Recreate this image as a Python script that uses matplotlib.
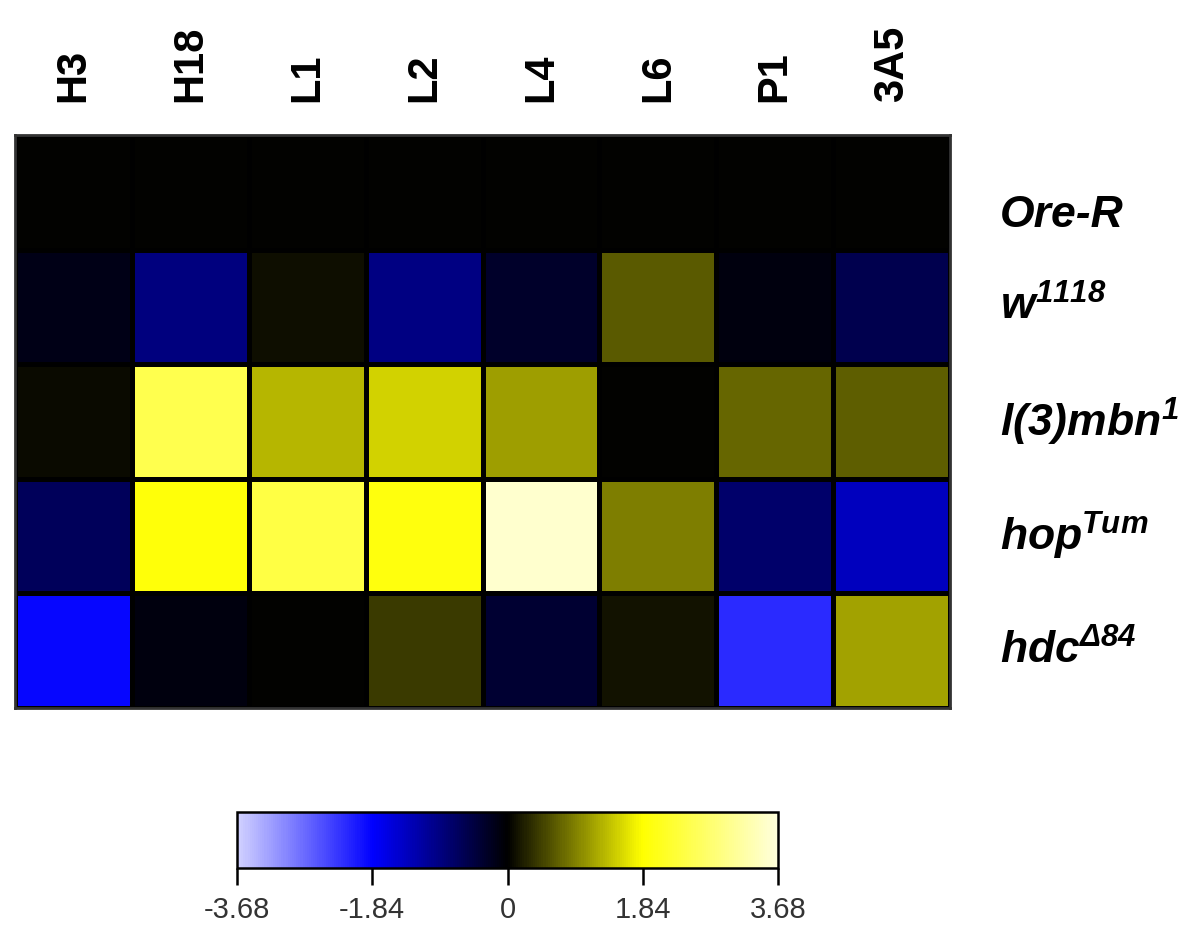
import numpy as np
import matplotlib.pyplot as plt
from matplotlib.colors import LinearSegmentedColormap

# cell lines (columns) and genotypes (rows)
columns = ['H3', 'H18', 'L1', 'L2', 'L4', 'L6', 'P1', '3A5']
rows = ['Ore-R', r'w$^{1118}$', r'l(3)mbn$^{1}$', r'hop$^{Tum}$', r'hdc$^{Δ84}$']

ore_r = [0.0, 0.0, 0.0, 0.0, 0.0, 0.0, 0.0, 0.0]
w1118 = [-0.15, -0.92, 0.10, -0.94, -0.29, 0.65, -0.10, -0.55]
mbn1 = [0.08, 2.50, 1.32, 1.50, 1.14, 0.02, 0.74, 0.68]
hop_tum = [-0.65, 1.92, 2.40, 1.95, 3.55, 0.90, -0.76, -1.37]
hdc84 = [-1.88, -0.09, 0.0, 0.43, -0.36, 0.14, -2.19, 1.17]

cbar_ticks = [-3.68, -1.84, 0, 1.84, 3.68]
cbar_labels = ['-3.68', '-1.84', '0', '1.84', '3.68']

values = np.array([ore_r, w1118, mbn1, hop_tum, hdc84])

plt.rcParams['mathtext.fontset'] = 'custom'
plt.rcParams['mathtext.rm'] = 'Liberation Sans:italic:bold'
plt.rcParams['mathtext.it'] = 'Liberation Sans:italic:bold'
plt.rcParams['mathtext.bf'] = 'Liberation Sans:italic:bold'

# blue - black - yellow map with pale ends
cmap = LinearSegmentedColormap.from_list(
    'byb',
    [(0.0, (0.82, 0.82, 1.0)), (0.25, (0.0, 0.0, 1.0)), (0.5, (0.0, 0.0, 0.0)),
     (0.75, (1.0, 1.0, 0.0)), (1.0, (1.0, 1.0, 0.86))])

W, H = 1196, 925
fig = plt.figure(figsize=(W / 100, H / 100), dpi=100)
ax = fig.add_axes([15 / W, 1 - 708 / H, 935 / W, 573 / H])

mesh = ax.pcolormesh(values, cmap=cmap, vmin=-3.68, vmax=3.68,
                     edgecolors='black', linewidth=2.5)
ax.set_xlim(0, len(columns))
ax.set_ylim(len(rows), 0)
for s in ax.spines.values():
    s.set_color('#333333')
    s.set_linewidth(2)

# column labels on top, rotated
ax.xaxis.tick_top()
ax.set_xticks(np.arange(len(columns)) + 0.5)
ax.set_xticklabels(columns, rotation=90, fontsize=30, fontweight='bold',
                   family='Liberation Sans')
ax.tick_params(axis='x', length=0, pad=24)
ax.set_yticks([])

# genotype labels on the right
for i, name in enumerate(rows):
    y = i + 0.5 + (0.2 if i == 0 else 0)
    ax.text(8.43, y, name, fontsize=32, fontweight='bold', fontstyle='italic',
            family='Liberation Sans', va='center', ha='left', clip_on=False)

# colour key
cax = fig.add_axes([237 / W, 1 - 868 / H, 541 / W, 56 / H])
cb = fig.colorbar(mesh, cax=cax, orientation='horizontal', ticks=cbar_ticks)
cb.ax.set_xticklabels(cbar_labels)
cb.outline.set_edgecolor('black')
cb.outline.set_linewidth(1.8)
cb.ax.tick_params(length=12, width=1.8, labelsize=21, labelcolor='#333333', pad=8)
for lab in cb.ax.get_xticklabels():
    lab.set_family('Liberation Sans')

fig.savefig('out.png', dpi=100)
